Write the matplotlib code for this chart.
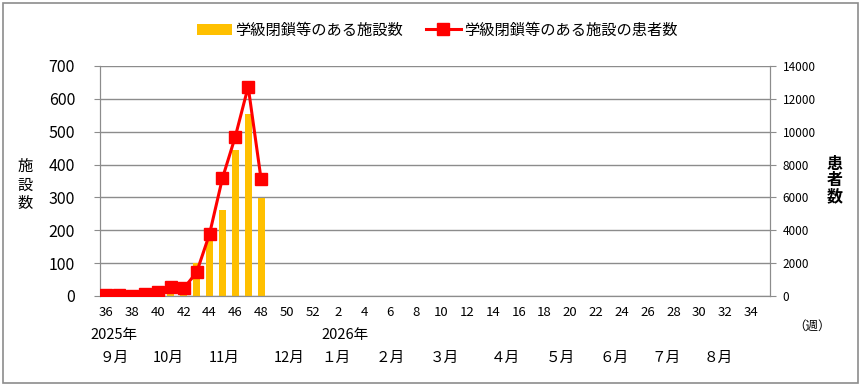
import numpy as np
import matplotlib
matplotlib.use('Agg')
import matplotlib.pyplot as plt
from matplotlib.patches import Rectangle

plt.rcParams['font.family'] = ['Noto Sans CJK JP', 'DejaVu Sans']

# 週番号（2025年36週〜2026年35週）
weeks = list(range(36, 53)) + list(range(1, 36))
# 学級閉鎖等のある施設数（36〜48週）
facilities = [0, 0, 0, 0, 5, 10, 15, 100, 170, 261, 444, 553, 298]
# 学級閉鎖等のある施設の患者数
patients = [50, 50, 0, 100, 220, 570, 470, 1440, 3770, 7160, 9700, 12740, 7120]

month_labels = ['９月', '10月', '11月', '12月', '１月', '２月', '３月', '４月', '５月', '６月', '７月', '８月']
month_pos = [0.6, 4.8, 9.1, 14.2, 17.8, 22.0, 26.2, 31.0, 35.2, 39.4, 43.4, 47.5]
year_labels = ['2025年', '2026年']
year_pos = [0.6, 18.5]

grey = '#8c8c8c'
idx = np.arange(len(facilities))

fig = plt.figure(figsize=(8.63, 3.85), dpi=100)
ax = fig.add_axes([100 / 863, 1 - 296 / 385, 670 / 863, 230 / 385])
ax2 = ax.twinx()

ax.bar(idx, facilities, width=0.55, color='#FFC000', label='学級閉鎖等のある施設数', zorder=2)
ax2.plot(idx, patients, color='#FF0000', lw=2.2, marker='s', ms=8, label='学級閉鎖等のある施設の患者数', zorder=3)

ax.set_xlim(-0.5, len(weeks) - 0.5)
ax.set_ylim(0, 700)
ax2.set_ylim(0, 14000)
ax.set_yticks(range(0, 701, 100))
ax2.set_yticks(range(0, 14001, 2000))
ax.yaxis.grid(True, color=grey, lw=1)
ax.set_axisbelow(True)

ax.set_xticks(range(0, len(weeks), 2))
ax.set_xticklabels([str(w) for w in weeks[::2]], fontsize=9.5)
ax.tick_params(axis='x', length=0, pad=7)
ax.tick_params(axis='y', labelsize=11.5, color=grey, length=4, pad=14)
ax2.tick_params(axis='y', labelsize=8.5, color=grey, length=4, pad=5)

for a in (ax, ax2):
    for s in a.spines.values():
        s.set_color(grey)
    a.spines['top'].set_visible(False)

for t, p in zip(year_labels, year_pos):
    ax.text(p, -0.17, t, transform=ax.get_xaxis_transform(), ha='center', va='center', fontsize=10.5)
for t, p in zip(month_labels, month_pos):
    ax.text(p, -0.27, t, transform=ax.get_xaxis_transform(), ha='center', va='center', fontsize=10.5)
fig.text(812 / 863, 1 - 326 / 385, '（週）', ha='center', va='center', fontsize=9)

fig.text(25 / 863, 1 - 185 / 385, '施\n設\n数', ha='center', va='center', fontsize=11, linespacing=1.1)
fig.text(835 / 863, 1 - 180 / 385, '患\n者\n数', ha='center', va='center', fontsize=11.5,
         fontweight='bold', linespacing=1.0)

h1, l1 = ax.get_legend_handles_labels()
h2, l2 = ax2.get_legend_handles_labels()
fig.legend(h1 + h2, l1 + l2, loc='center', bbox_to_anchor=(437 / 863, 1 - 30 / 385), ncol=2,
           frameon=False, fontsize=11, handlelength=2.3, columnspacing=1.5, handletextpad=0.2)

fig.patches.append(Rectangle((3 / 863, 2 / 385), 855 / 863, 380 / 385, transform=fig.transFigure,
                             fill=False, edgecolor=grey, lw=1.2))

plt.savefig('out.png', dpi=100)
